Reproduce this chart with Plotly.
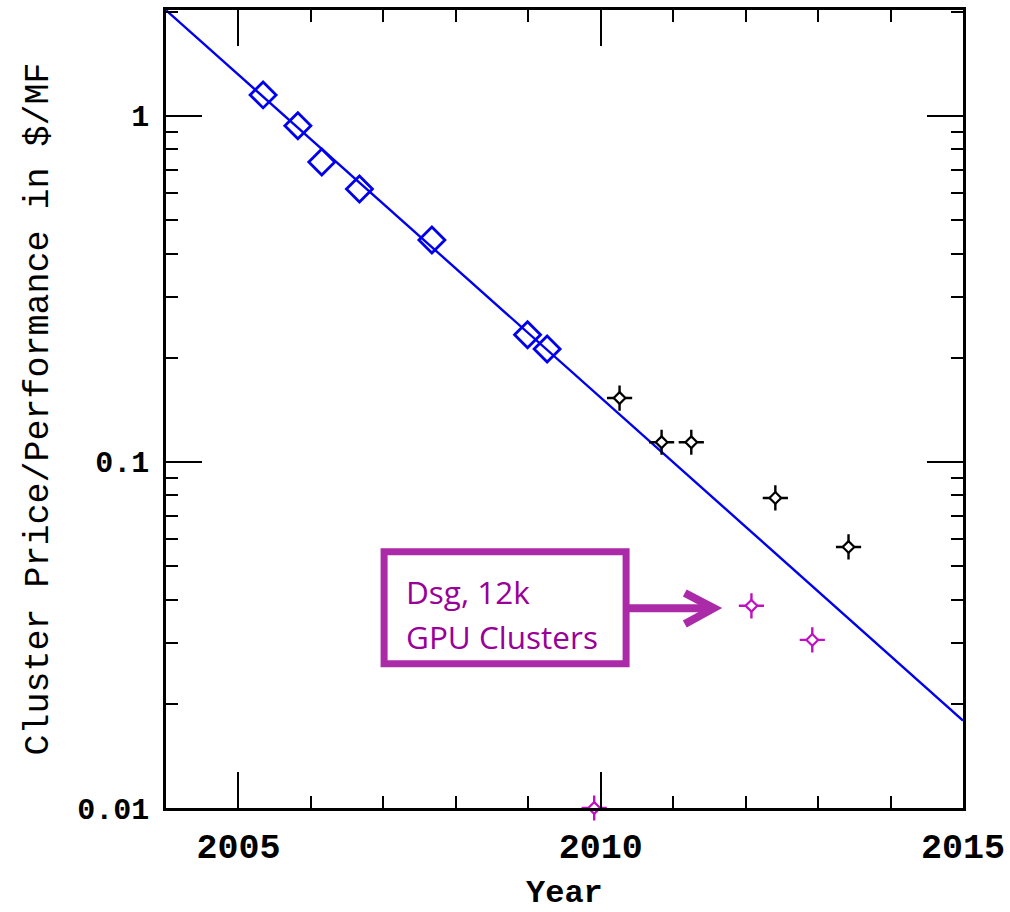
import plotly.graph_objects as go
import math

# Data
cpu_years = [2005.34, 2005.82, 2006.15, 2006.67, 2007.67, 2008.99, 2009.26]
cpu_price = [1.15, 0.936, 0.736, 0.615, 0.438, 0.233, 0.212]

recent_years = [2010.26, 2010.84, 2011.25, 2012.41, 2013.42]
recent_price = [0.153, 0.114, 0.114, 0.0787, 0.0568]

gpu_years = [2012.08, 2012.92, 2009.91]
gpu_price = [0.0384, 0.0306, 0.0100]

fit_years = [2004, 2015]
fit_price = [2.02, 0.0179]

y_tickvals = [0.01, 0.1, 1]
y_ticktext = ["0.01", "0.1", "1"]
x_tickvals = [2005, 2010, 2015]
x_ticktext = ["2005", "2010", "2015"]

callout_lines = ["Dsg, 12k", "GPU Clusters"]
x_title = "Year"
y_title = "Cluster Price/Performance in $/MF"

X_RANGE = [2004, 2015]
Y_RANGE = [-2, 0.306]

BLUE = "#0000ee"
MAG = "#c010c0"
BOX = "#aa2aa8"
TXT = "#990099"


def px(year):
    return (year - X_RANGE[0]) / (X_RANGE[1] - X_RANGE[0])


def py(val):
    return (math.log10(val) - Y_RANGE[0]) / (Y_RANGE[1] - Y_RANGE[0])


fig = go.Figure()

fig.add_trace(go.Scatter(x=fit_years, y=fit_price, mode="lines",
                         line=dict(color=BLUE, width=2.4), hoverinfo="skip"))
fig.add_trace(go.Scatter(x=cpu_years, y=cpu_price, mode="markers",
                         marker=dict(symbol="diamond-open", size=20, color=BLUE,
                                     line=dict(color=BLUE, width=2.8))))

# recent clusters: cross + open diamond
fig.add_trace(go.Scatter(x=recent_years, y=recent_price, mode="markers",
                         marker=dict(symbol="cross-thin", size=18,
                                     line=dict(color="black", width=2.4))))
fig.add_trace(go.Scatter(x=recent_years, y=recent_price, mode="markers",
                         marker=dict(symbol="diamond", size=9, color="white",
                                     line=dict(color="black", width=2.2))))

fig.add_trace(go.Scatter(x=gpu_years, y=gpu_price, mode="markers", cliponaxis=False,
                         marker=dict(symbol="cross-thin", size=18,
                                     line=dict(color=MAG, width=2.4))))
fig.add_trace(go.Scatter(x=gpu_years, y=gpu_price, mode="markers", cliponaxis=False,
                         marker=dict(symbol="diamond", size=9, color="white",
                                     line=dict(color=MAG, width=2.2))))

# callout box
fig.add_shape(type="rect", xref="paper", yref="paper",
              x0=px(2007.01), x1=px(2010.35), y0=py(0.0261), y1=py(0.0550),
              line=dict(color=BOX, width=7), fillcolor="rgba(0,0,0,0)")
for line_text, yv in zip(callout_lines, [0.0421, 0.0314]):
    fig.add_annotation(x=px(2007.28), y=py(yv), xref="paper", yref="paper",
                       text=line_text, showarrow=False,
                       xanchor="left", yanchor="middle", align="left",
                       font=dict(family="Open Sans, Noto Sans, sans-serif", size=31.5, color=TXT))
# arrow
fig.add_shape(type="line", xref="paper", yref="paper",
              x0=px(2010.35), x1=px(2011.53), y0=py(0.0378), y1=py(0.0378),
              line=dict(color=BOX, width=8))
fig.add_shape(type="path", xref="paper", yref="paper",
              path="M %f,%f L %f,%f L %f,%f" % (px(2011.16), py(0.0418), px(2011.56), py(0.0378),
                                               px(2011.16), py(0.0340)),
              line=dict(color=BOX, width=8))

# x-axis title (placed as annotation for exact position)
fig.add_annotation(x=0.5, y=-0.107, xref="paper", yref="paper", text=x_title,
                   showarrow=False, xanchor="center", yanchor="middle",
                   font=dict(family="Liberation Mono", size=32, weight="bold", color="black"))

fig.update_layout(
    width=1010, height=912,
    margin=dict(l=166, r=47, t=10, b=104, autoexpand=False),
    plot_bgcolor="white", paper_bgcolor="white",
    showlegend=False,
    font=dict(family="Liberation Mono", color="black"),
)
fig.update_xaxes(
    range=X_RANGE, showgrid=False, zeroline=False, automargin=False,
    showline=True, linecolor="black", linewidth=2.5, mirror="allticks",
    ticks="inside", ticklen=36, tickwidth=2, tickcolor="black",
    tickvals=x_tickvals, ticktext=x_ticktext,
    tickfont=dict(family="Liberation Mono", size=35, weight="bold"),
    ticklabelstandoff=5,
    minor=dict(ticks="inside", ticklen=12, tickwidth=1.5, dtick=1, tickcolor="black", showgrid=False),
)
fig.update_yaxes(
    type="log", range=Y_RANGE, showgrid=False, zeroline=False, automargin=False,
    showline=True, linecolor="black", linewidth=2.5, mirror="allticks",
    ticks="inside", ticklen=36, tickwidth=2, tickcolor="black",
    tickvals=y_tickvals, ticktext=y_ticktext,
    tickfont=dict(family="Liberation Mono", size=30, weight="bold"),
    ticklabelstandoff=8,
    minor=dict(ticks="inside", ticklen=12, tickwidth=1.5, dtick="D1", tickcolor="black", showgrid=False),
    title=dict(text=y_title, font=dict(family="Liberation Mono", size=35), standoff=18),
)

fig.write_html("out.html", config={"displayModeBar": False},
               post_script="document.body.style.margin='0px';")
